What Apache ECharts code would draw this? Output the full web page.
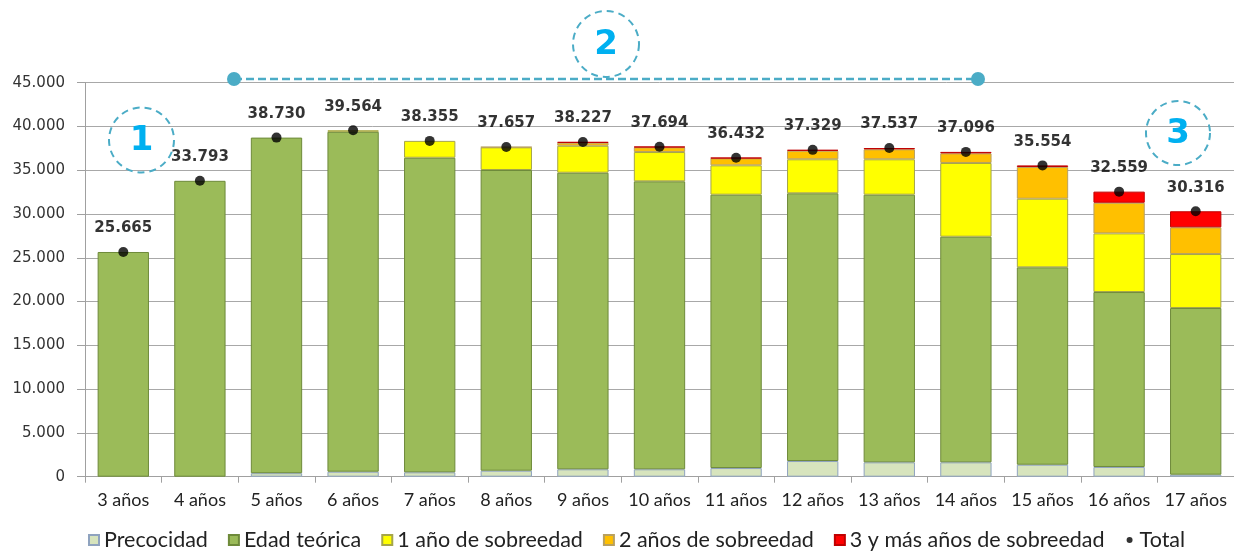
<!DOCTYPE html>
<html><head><meta charset="utf-8">
<script src="https://cdn.jsdelivr.net/npm/echarts@6/dist/echarts.min.js"></script>
<style>html,body{margin:0;padding:0;background:#fff}#c{width:1234px;height:551px}</style>
</head><body><div id="c"></div>
<script>
const categories = ['3 años','4 años','5 años','6 años','7 años','8 años','9 años','10 años','11 años','12 años','13 años','14 años','15 años','16 años','17 años'];
const precocidad = [0,0,400,570,500,685,845,845,990,1790,1640,1640,1370,1110,230];
const edadTeorica = [25665,33793,38330,38824,35930,34345,33875,32890,31220,30575,30570,25770,22540,19980,19040];
const sobre1 = [0,0,0,170,1925,2590,3080,3345,3350,3885,4040,8420,7840,6700,6160];
const sobre2 = [0,0,0,0,0,37,345,540,800,980,1140,1100,3620,3500,3050];
const sobre3 = [0,0,0,0,0,0,82,74,72,99,147,166,184,1269,1836];
const total = [25665,33793,38730,39564,38355,37657,38227,37694,36432,37329,37537,37096,35554,32559,30316];
const yTicks = {min:0, max:45000, interval:5000};

const fmt = v => String(v).replace(/\B(?=(\d{3})+(?!\d))/g, '.');
const nz = arr => arr.map(v => v === 0 ? '-' : v);

const chart = echarts.init(document.getElementById('c'), null, {renderer:'canvas'});
const barSeries = (name, data, color, border) => ({
  name, type:'bar', stack:'s', data: nz(data), barCategoryGap:'33%',
  itemStyle:{color, borderColor:border, borderWidth:1}
});
const stroke = '#4BACC6';
const circ = (cx, cy, r, t) => ([
  {type:'circle', shape:{cx, cy, r}, style:{fill:null, stroke, lineWidth:2, lineDash:[7,5]}, z:10},
  {type:'text', x:cx, y:cy+1, style:{text:t, fill:'#00B0F0', font:'bold 34px "DejaVu Sans"', textAlign:'center', textVerticalAlign:'middle'}, z:10}
]);
chart.setOption({
  animation:false,
  backgroundColor:'#fff',
  grid:{left:85, right:0, top:82.7, bottom:74.3, containLabel:false},
  legend:{
    bottom:-5, left:83, itemWidth:10, itemHeight:10, itemGap:20,
    textStyle:{fontFamily:'Lato', fontSize:21.5, color:'#222'},
    data:[
      {name:'Precocidad', icon:'rect'},
      {name:'Edad teórica', icon:'rect'},
      {name:'1 año de sobreedad', icon:'rect'},
      {name:'2 años de sobreedad', icon:'rect'},
      {name:'3 y más años de sobreedad', icon:'rect'},
      {name:'Total', icon:'path://M0,0 m2,5 a3,3 0 1,0 6,0 a3,3 0 1,0 -6,0 M0,0 L0,0.01 M10,10 L10,10.01'}
    ]
  },
  xAxis:{
    type:'category', data:categories,
    axisLine:{lineStyle:{color:'#A0A0A0'}},
    axisTick:{show:true, length:6, lineStyle:{color:'#A0A0A0'}},
    axisLabel:{interval:0, fontFamily:'Lato', fontSize:18, color:'#222', margin:14}
  },
  yAxis:{
    type:'value', min:yTicks.min, max:yTicks.max, interval:yTicks.interval,
    axisLine:{show:true, lineStyle:{color:'#A0A0A0'}},
    axisTick:{show:true, length:8, lineStyle:{color:'#A0A0A0'}},
    splitLine:{lineStyle:{color:'#A8A8A8'}},
    axisLabel:{fontFamily:'DejaVu Sans', fontSize:15, color:'#333', margin:20, formatter:fmt}
  },
  series:[
    barSeries('Precocidad', precocidad, '#D7E4BD', '#8FA3BF'),
    barSeries('Edad teórica', edadTeorica, '#9BBB59', '#6E8A3A'),
    barSeries('1 año de sobreedad', sobre1, '#FFFF00', '#A5A54A'),
    barSeries('2 años de sobreedad', sobre2, '#FFC000', '#B8A060'),
    barSeries('3 y más años de sobreedad', sobre3, '#FF0000', '#C00000'),
    {name:'Total', type:'scatter', data:total, symbol:'circle', symbolSize:10, z:5,
     itemStyle:{color:'#000'},
     label:{show:true, position:'top', distance:11, formatter:p=>fmt(p.value),
            fontFamily:'DejaVu Sans', fontWeight:'bold', fontSize:15, color:'#000'}}
  ],
  graphic:[
    ...circ(141.5,140,32.5,'1'),
    ...circ(606,44,33,'2'),
    ...circ(1178,133,32,'3'),
    {type:'line', shape:{x1:234,y1:79,x2:978,y2:79}, style:{stroke, lineWidth:2.5, lineDash:[8,4]}, z:10},
    {type:'circle', shape:{cx:234, cy:79, r:7}, style:{fill:stroke}, z:11},
    {type:'circle', shape:{cx:978, cy:79, r:7}, style:{fill:stroke}, z:11}
  ]
});
</script></body></html>
